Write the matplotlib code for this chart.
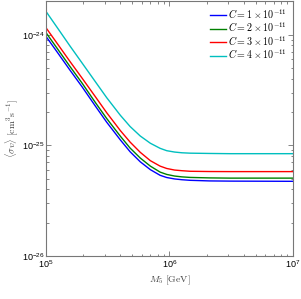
import matplotlib
matplotlib.use("Agg")
import matplotlib.pyplot as plt
from matplotlib.ticker import LogLocator, FuncFormatter
import numpy as np

plt.rcParams['mathtext.rm'] = 'Liberation Sans'
plt.rcParams['mathtext.it'] = 'Liberation Sans:italic'
plt.rcParams['mathtext.bf'] = 'Liberation Sans:bold'

M5 = [1e5, 1.25e5, 1.56e5, 1.96e5, 2.5e5, 3.1e5, 4e5, 4.8e5, 5.8e5,
      7e5, 8.4e5, 9.5e5, 1.1e6, 1.26e6, 1.47e6, 2.1e6, 3.1e6, 1e7]

# <sigma v> for each value of C (cm^3 s^-1)
sv_C1 = [9.65e-25, 6.81e-25, 4.80e-25, 3.38e-25, 2.28e-25, 1.62e-25, 1.12e-25, 8.75e-26, 7.1e-26,
         6.03e-26, 5.36e-26, 5.12e-26, 4.97e-26, 4.89e-26, 4.83e-26, 4.77e-26, 4.75e-26, 4.73e-26]
sv_C2 = [1.043e-24, 7.35e-25, 5.18e-25, 3.65e-25, 2.455e-25, 1.75e-25, 1.21e-25, 9.45e-26, 7.68e-26,
         6.49e-26, 5.73e-26, 5.46e-26, 5.28e-26, 5.19e-26, 5.13e-26, 5.08e-26, 5.055e-26, 5.055e-26]
sv_C3 = [1.156e-24, 8.15e-25, 5.75e-25, 4.05e-25, 2.77e-25, 1.974e-25, 1.36e-25, 1.07e-25, 8.65e-26,
         7.27e-26, 6.49e-26, 6.18e-26, 5.98e-26, 5.90e-26, 5.83e-26, 5.80e-26, 5.79e-26, 5.79e-26]
sv_C4 = [1.623e-24, 1.135e-24, 7.94e-25, 5.55e-25, 3.785e-25, 2.70e-25, 1.87e-25, 1.48e-25, 1.215e-25,
         1.045e-25, 9.4e-26, 8.95e-26, 8.7e-26, 8.57e-26, 8.5e-26, 8.45e-26, 8.41e-26, 8.41e-26]

labels = [r'$C = 1\times10^{-11}$', r'$C = 2\times10^{-11}$',
          r'$C = 3\times10^{-11}$', r'$C = 4\times10^{-11}$']
colors = ['#0000ff', '#008000', '#ff0000', '#00bfbf']

fig = plt.figure(figsize=(3.01, 2.99), dpi=100)
ax = fig.add_axes([0.153, 0.144, 0.820, 0.851])

for sv, lab, col in zip([sv_C1, sv_C2, sv_C3, sv_C4], labels, colors):
    ax.plot(M5, sv, color=col, lw=1.0, label=lab)

ax.set_xscale('log')
ax.set_yscale('log')
ax.set_xlim(1e5, 1e7)
ax.set_ylim(1e-26, 2e-24)

# MATLAB-like ticks: inward, all sides
ax.tick_params(which='both', direction='in', top=True, right=True,
               colors='#555555', labelcolor='black', labelsize=6.5)
ax.tick_params(which='major', length=3.5, width=0.5)
ax.tick_params(which='minor', length=1.8, width=0.5)
ax.xaxis.set_minor_locator(LogLocator(subs=np.arange(2, 10)))
ax.yaxis.set_minor_locator(LogLocator(subs=np.arange(2, 10)))

def sci(v, pos):
    return r'$10^{%d}$' % int(round(np.log10(v)))

ax.xaxis.set_major_formatter(FuncFormatter(sci))
ax.yaxis.set_major_formatter(FuncFormatter(sci))
for t in ax.get_xticklabels() + ax.get_yticklabels():
    t.set_math_fontfamily('custom')
ax.tick_params(axis='x', pad=2)
ax.tick_params(axis='y', pad=1)

for s in ax.spines.values():
    s.set_color('#777777')
    s.set_linewidth(0.8)

ax.set_xlabel(r'$M_5\ [\mathrm{GeV}]$', fontsize=7, math_fontfamily='cm', color='#444444')
ax.set_ylabel(r'$\langle\sigma v\rangle\ [\mathrm{cm}^3\mathrm{s}^{-1}]$', fontsize=7,
              math_fontfamily='cm', color='#444444')
ax.xaxis.set_label_coords(0.5, -0.07)
ax.yaxis.set_label_coords(-0.105, 0.5)

leg = ax.legend(loc='upper right', frameon=False, fontsize=7.2, handlelength=1.6,
                handletextpad=0.15, labelspacing=0.0, borderaxespad=0.2)
for t in leg.get_texts():
    t.set_math_fontfamily('cm')

fig.savefig('out.png', dpi=100)
